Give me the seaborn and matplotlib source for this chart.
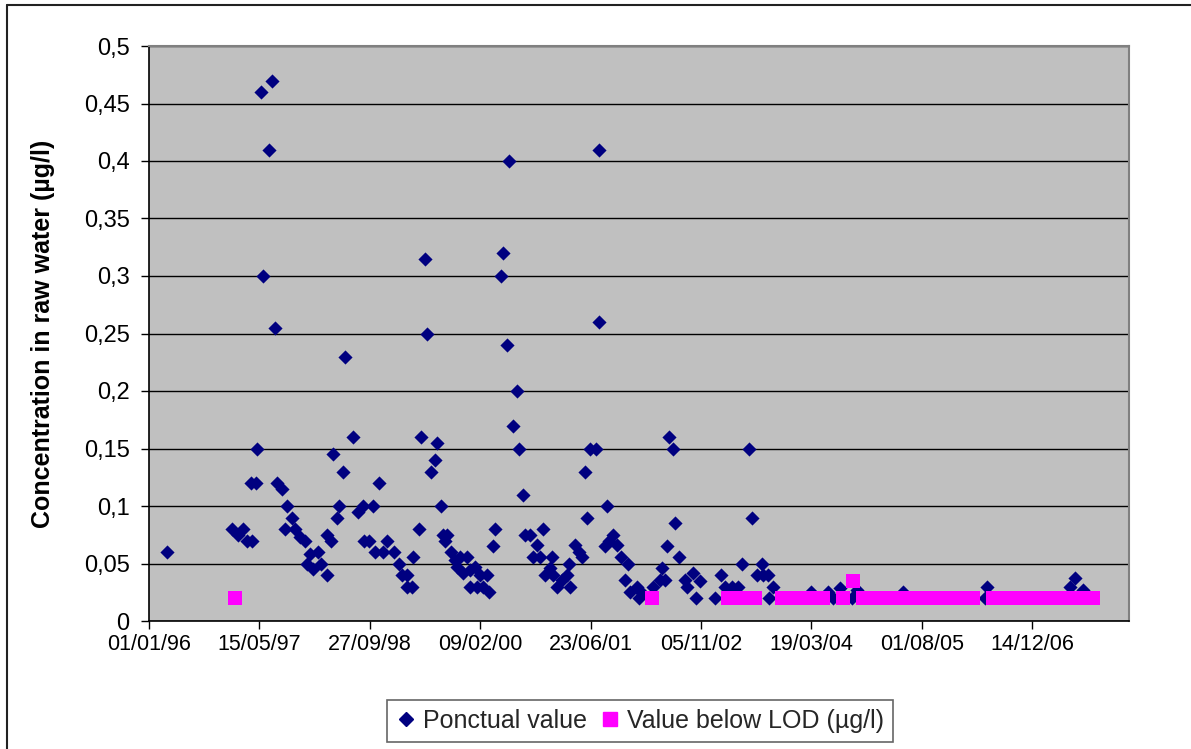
import pandas as pd
import numpy as np
import matplotlib
matplotlib.use("Agg")
import matplotlib.pyplot as plt
import matplotlib.dates as mdates
from matplotlib.lines import Line2D
import seaborn as sns

# days counted from 01/01/96, values in µg/l
ponctual_days = [83, 377, 404, 427, 442, 465, 461, 485, 488, 507, 518, 545, 556, 571, 578,
                 601, 616, 624, 646, 661, 684, 707, 714, 729, 743, 765, 779, 805, 806, 823,
                 832, 853, 860, 877, 888, 925, 948, 971, 974, 998, 1016, 1024, 1042, 1061, 1080,
                 1110, 1134, 1144, 1167, 1168, 1190, 1197, 1224, 1231, 1250, 1260, 1276, 1295, 1306, 1321,
                 1330, 1340, 1351, 1366, 1386, 1394, 1408, 1423, 1439, 1454, 1455, 1476, 1484, 1499, 1514,
                 1529, 1541, 1559, 1567, 1596, 1605, 1620, 1632, 1647, 1668, 1677, 1695, 1703, 1726, 1738,
                 1756, 1771, 1786, 1793, 1816, 1824, 1831, 1846, 1869, 1892, 1904, 1907, 1929, 1949, 1960,
                 1975, 1985, 1997, 2024, 2039, 2040, 2065, 2074, 2083, 2101, 2120, 2138, 2156, 2169, 2178,
                 2209, 2221, 2231, 2284, 2314, 2322, 2337, 2347, 2356, 2375, 2382, 2402, 2428, 2438, 2465,
                 2477, 2495, 2563, 2589, 2609, 2639, 2669, 2684, 2719, 2730, 2752, 2775, 2782, 2805, 2809,
                 2828, 2997, 3077, 3099, 3130, 3183, 3205, 3416, 3786, 3797, 4171, 4194, 4231]
ponctual_vals = [0.06, 0.08, 0.075, 0.08, 0.07, 0.07, 0.12, 0.12, 0.15, 0.46, 0.30, 0.41, 0.47, 0.255, 0.12,
                 0.115, 0.08, 0.10, 0.09, 0.08, 0.073, 0.07, 0.05, 0.058, 0.045, 0.06, 0.05, 0.04, 0.075, 0.07,
                 0.145, 0.09, 0.10, 0.13, 0.23, 0.16, 0.095, 0.10, 0.07, 0.07, 0.10, 0.06, 0.12, 0.06, 0.07,
                 0.06, 0.05, 0.04, 0.04, 0.03, 0.03, 0.056, 0.08, 0.16, 0.315, 0.25, 0.13, 0.14, 0.155, 0.10,
                 0.075, 0.07, 0.075, 0.06, 0.053, 0.047, 0.056, 0.042, 0.056, 0.044, 0.03, 0.047, 0.03, 0.04, 0.03,
                 0.04, 0.025, 0.065, 0.08, 0.30, 0.32, 0.24, 0.40, 0.17, 0.20, 0.15, 0.11, 0.075, 0.075, 0.056,
                 0.066, 0.056, 0.08, 0.04, 0.046, 0.056, 0.04, 0.03, 0.036, 0.04, 0.05, 0.03, 0.066, 0.06, 0.056,
                 0.13, 0.09, 0.15, 0.15, 0.41, 0.26, 0.065, 0.10, 0.07, 0.075, 0.066, 0.056, 0.036, 0.05, 0.025,
                 0.03, 0.02, 0.024, 0.03, 0.036, 0.046, 0.036, 0.065, 0.16, 0.15, 0.085, 0.056, 0.036, 0.03, 0.042,
                 0.02, 0.035, 0.02, 0.04, 0.03, 0.03, 0.03, 0.05, 0.15, 0.09, 0.04, 0.05, 0.04, 0.04, 0.02,
                 0.03, 0.025, 0.025, 0.02, 0.029, 0.02, 0.027, 0.025, 0.02, 0.03, 0.03, 0.037, 0.027]

lod_days = [389, 2277, 2620, 2650, 2680, 2710, 2745, 2867, 2895, 2925, 2960, 2990, 3020, 3052,
            3143, 3190, 3234, 3265, 3300, 3335, 3365, 3400, 3430, 3465, 3500, 3530, 3560, 3600,
            3630, 3665, 3700, 3732, 3823, 3855, 3890, 3920, 3955, 3990, 4020, 4055, 4090, 4120,
            4150, 4185, 4215, 4245, 4275]
lod_vals = [0.02, 0.02, 0.02, 0.02, 0.02, 0.02, 0.02, 0.02, 0.02, 0.02, 0.02, 0.02, 0.02, 0.02,
            0.02, 0.035, 0.02, 0.02, 0.02, 0.02, 0.02, 0.02, 0.02, 0.02, 0.02, 0.02, 0.02, 0.02,
            0.02, 0.02, 0.02, 0.02, 0.02, 0.02, 0.02, 0.02, 0.02, 0.02, 0.02, 0.02, 0.02, 0.02,
            0.02, 0.02, 0.02, 0.02, 0.02]

start = pd.Timestamp("1996-01-01")
df_p = pd.DataFrame({"date": start + pd.to_timedelta(ponctual_days, unit="D"), "conc": ponctual_vals})
df_l = pd.DataFrame({"date": start + pd.to_timedelta(lod_days, unit="D"), "conc": lod_vals})

sns.set_theme(style="white")
plt.rcParams["font.family"] = ["Liberation Sans", "DejaVu Sans"]

fig = plt.figure(figsize=(11.91, 7.49), dpi=100)
ax = fig.add_axes([149 / 1191, 1 - 621 / 749, 980 / 1191, 575 / 749])
ax.set_facecolor("#C0C0C0")

sns.scatterplot(data=df_p, x="date", y="conc", marker="D", s=52, color="#000080",
                linewidth=0, ax=ax, label="Ponctual value", zorder=3)
sns.scatterplot(data=df_l, x="date", y="conc", marker="s", s=92, color="#FF00FF",
                linewidth=0, ax=ax, label="Value below LOD (µg/l)", zorder=4)

# axes limits / ticks like the Excel chart (major unit 500 days)
ax.set_ylim(0, 0.5)
yt = np.arange(0, 0.5001, 0.05)
ax.set_yticks(yt)
ax.set_yticklabels([f"{v:.2f}".rstrip("0").rstrip(".").replace(".", ",") for v in yt])
xt = [start + pd.Timedelta(days=500 * i) for i in range(9)]
ax.set_xticks(xt)
ax.xaxis.set_major_formatter(mdates.DateFormatter("%d/%m/%y"))
ax.set_xlim(start, start + pd.Timedelta(days=4438))

ax.grid(axis="y", color="black", linewidth=1.0)
ax.set_axisbelow(True)
ax.tick_params(axis="both", direction="out", length=6, width=1, color="black",
               labelcolor="black")
ax.tick_params(axis="y", pad=8, labelsize=17)
ax.tick_params(axis="x", pad=3, labelsize=15.5)
ax.yaxis.set_ticks_position("left")
ax.xaxis.set_ticks_position("bottom")

for side in ["top", "right"]:
    ax.spines[side].set_color("#808080")
    ax.spines[side].set_linewidth(1.5)
for side in ["left", "bottom"]:
    ax.spines[side].set_color("black")
    ax.spines[side].set_linewidth(1.2)

ax.set_xlabel("")
ax.set_ylabel("Concentration in raw water (µg/l)", fontsize=18, fontweight="bold", color="black")
ax.yaxis.set_label_coords(-0.096, 0.5)

handles = [Line2D([], [], marker="D", color="#000080", linestyle="", markersize=7),
           Line2D([], [], marker="s", color="#FF00FF", linestyle="", markersize=9.5)]
leg = ax.legend(handles, ["Ponctual value", "Value below LOD (µg/l)"], ncol=2,
                loc="center", bbox_to_anchor=(640 / 1191, 1 - 721 / 749),
                bbox_transform=fig.transFigure, fontsize=18, frameon=True, fancybox=False,
                handlelength=0.8, handletextpad=0.3, columnspacing=0.5, borderpad=0.35)
leg.get_frame().set_edgecolor("#404040")
leg.get_frame().set_linewidth(1.2)

# outer chart area border (cropped on the right / bottom)
fig.add_artist(Line2D([7 / 1191, 7 / 1191], [0, 1 - 5 / 749], color="#222222", lw=1.5,
                      transform=fig.transFigure))
fig.add_artist(Line2D([7 / 1191, 1], [1 - 5 / 749, 1 - 5 / 749], color="#222222", lw=1.5,
                      transform=fig.transFigure))

fig.savefig("out.png", dpi=100, facecolor="white")
